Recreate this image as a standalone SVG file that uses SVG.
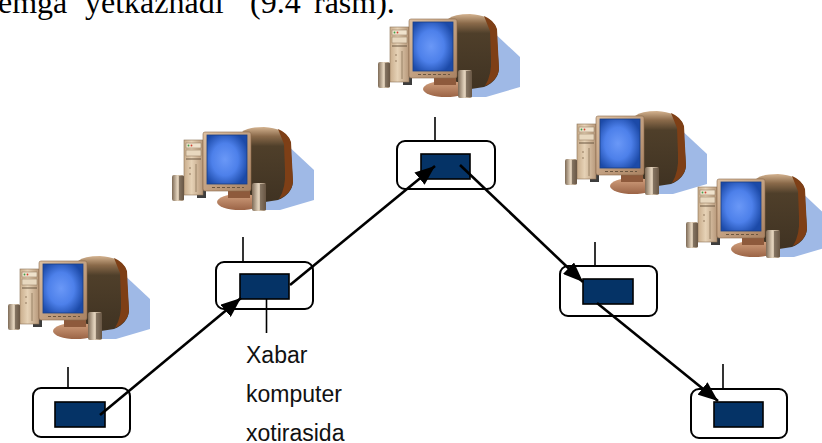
<svg xmlns="http://www.w3.org/2000/svg" width="822" height="443" viewBox="0 0 822 443">
<defs>
<style>
.box{fill:#fff;stroke:#000;stroke-width:2}
.msg{fill:#053366;stroke:#000;stroke-width:1.6}
.tick{stroke:#000;stroke-width:1.6}
.link{stroke:#000;stroke-width:2.6;fill:none;marker-end:url(#head)}
.lbl{font-family:"Liberation Sans",Arial,sans-serif;font-size:23px;fill:#111}
.cap{font-family:"Liberation Serif","Times New Roman",serif;font-size:32px;fill:#000}
</style>
<marker id="head" markerUnits="userSpaceOnUse" markerWidth="22" markerHeight="16" refX="20" refY="8" orient="auto" viewBox="0 0 22 16">
<path d="M0,0 L20,8 L0,16 Z" fill="#000"/>
</marker>
<radialGradient id="screen" cx="0.45" cy="0.5" r="0.6">
<stop offset="0" stop-color="#6a98f7"/>
<stop offset="0.55" stop-color="#4d80ea"/>
<stop offset="1" stop-color="#1c4aa8"/>
</radialGradient>
<linearGradient id="bezel" x1="0" y1="0" x2="1" y2="1">
<stop offset="0" stop-color="#dcc0a2"/>
<stop offset="1" stop-color="#a98262"/>
</linearGradient>
<linearGradient id="case" x1="0" y1="0" x2="0" y2="1">
<stop offset="0" stop-color="#d4b390"/>
<stop offset="0.12" stop-color="#8a6a4a"/>
<stop offset="0.25" stop-color="#4f3f2a"/>
<stop offset="1" stop-color="#3f3222"/>
</linearGradient>
<linearGradient id="tower" x1="0" y1="0" x2="1" y2="0">
<stop offset="0" stop-color="#c9ad8c"/>
<stop offset="0.4" stop-color="#e6d2b6"/>
<stop offset="1" stop-color="#b7987a"/>
</linearGradient>
<linearGradient id="spk" x1="0" y1="0" x2="1" y2="0">
<stop offset="0" stop-color="#7d6a56"/>
<stop offset="0.45" stop-color="#e3d3bd"/>
<stop offset="1" stop-color="#8c765f"/>
</linearGradient>
<linearGradient id="stand" x1="0" y1="0" x2="0" y2="1">
<stop offset="0" stop-color="#d2a07e"/>
<stop offset="1" stop-color="#9b6446"/>
</linearGradient>
<!-- desktop computer clip art, local origin at its top-left -->
<g id="pc">
<path d="M88,6 L112,12 L142,40 L142,70 L108,80 L88,80 Z" fill="#9fb9e6"/>
<path d="M70,2 Q76,-3 92,-3 Q112,-2 118,10 L121,52 Q120,64 106,70 L80,74 L70,74 Z" fill="url(#case)"/>
<path d="M106,-1 Q116,3 119,12 L121,52 Q120,63 107,69 Q114,58 113,40 L112,14 Z" fill="#7e3f16"/>
<path d="M25,38 L34,38 L34,68 L25,68 Z" fill="#3d3d3d"/>
<rect x="12" y="10" width="19" height="55" fill="url(#tower)" stroke="#8c7358" stroke-width="0.6"/>
<rect x="14" y="13" width="15" height="5" fill="#efe2cc" stroke="#8c7358" stroke-width="0.5"/>
<circle cx="16.5" cy="15.5" r="0.9" fill="#3aa04a"/>
<circle cx="19.5" cy="15.5" r="0.9" fill="#d04030"/>
<rect x="14" y="20" width="15" height="6" fill="#e8d8bf" stroke="#8c7358" stroke-width="0.5"/>
<line x1="14" y1="29" x2="29" y2="29" stroke="#6b5640" stroke-width="1"/>
<line x1="24" y1="34" x2="24" y2="62" stroke="#8c7358" stroke-width="0.8"/>
<circle cx="18" cy="38" r="0.8" fill="#8c7358"/>
<circle cx="18" cy="44" r="0.8" fill="#8c7358"/>
<ellipse cx="68" cy="72" rx="23" ry="8" fill="url(#stand)"/>
<rect x="56" y="58" width="22" height="10" fill="#8e5a3c"/>
<rect x="31" y="2" width="48" height="59" rx="2" fill="url(#bezel)" stroke="#8a6a4c" stroke-width="0.6"/>
<rect x="35" y="5" width="40" height="49" fill="url(#screen)" stroke="#1a3f86" stroke-width="0.8"/>
<line x1="40" y1="57.5" x2="72" y2="57.5" stroke="#6b5640" stroke-width="1" stroke-dasharray="3 2"/>
<rect x="0" y="45" width="12" height="26" rx="2" fill="url(#spk)"/>
<rect x="7" y="46" width="5" height="24" fill="#4a3c2e" opacity="0.55"/>
<rect x="80" y="53" width="14" height="28" rx="2" fill="url(#spk)"/>
<rect x="88" y="54" width="6" height="26" fill="#4a3c2e" opacity="0.55"/>
</g>
</defs>
<rect width="822" height="443" fill="#fff"/>

<!-- running text from the page above, clipped by the top edge -->
<text class="cap" y="13"><tspan x="-2">emga</tspan><tspan x="85">yetkazhadi</tspan><tspan x="250">(9.4</tspan><tspan x="314">rasm).</tspan></text>

<!-- computers -->
<g id="computers">
<use href="#pc" transform="translate(378,17)"/>
<use href="#pc" transform="translate(172,130)"/>
<use href="#pc" transform="translate(8,259)"/>
<use href="#pc" transform="translate(565,114)"/>
<use href="#pc" transform="translate(686,177)"/>
</g>

<!-- switching nodes -->
<g id="node-a">
<line class="tick" x1="68" y1="367" x2="68" y2="388"/>
<rect class="box" x="33" y="388" width="97" height="49" rx="8"/>
<rect class="msg" x="55" y="402" width="50" height="25"/>
</g>
<g id="node-b">
<line class="tick" x1="243" y1="237" x2="243" y2="262"/>
<rect class="box" x="216" y="262" width="97" height="47" rx="8"/>
<rect class="msg" x="240" y="274" width="49" height="25"/>
<line class="tick" x1="266.5" y1="299" x2="266.5" y2="333"/>
<text class="lbl" x="246" y="363">Xabar</text>
<text class="lbl" x="246" y="402">komputer</text>
<text class="lbl" x="246" y="441">xotirasida</text>
</g>
<g id="node-c">
<line class="tick" x1="435" y1="117" x2="435" y2="141"/>
<rect class="box" x="397" y="141" width="98" height="48" rx="8"/>
<rect class="msg" x="421" y="154" width="49" height="25"/>
</g>
<g id="node-d">
<line class="tick" x1="595" y1="242" x2="595" y2="266"/>
<rect class="box" x="560" y="266" width="97" height="50" rx="8"/>
<rect class="msg" x="583" y="279" width="50" height="25"/>
</g>
<g id="node-e">
<line class="tick" x1="723" y1="364" x2="723" y2="389"/>
<rect class="box" x="691" y="389" width="96" height="49" rx="8"/>
<rect class="msg" x="714" y="402" width="49" height="25"/>
</g>

<!-- message route -->
<g id="connectors">
<line class="link" x1="100" y1="415" x2="241" y2="298"/>
<line class="link" x1="290" y1="285" x2="435" y2="166"/>
<line class="link" x1="460" y1="165" x2="583" y2="282"/>
<line class="link" x1="597" y1="303" x2="718" y2="401"/>
</g>
</svg>
